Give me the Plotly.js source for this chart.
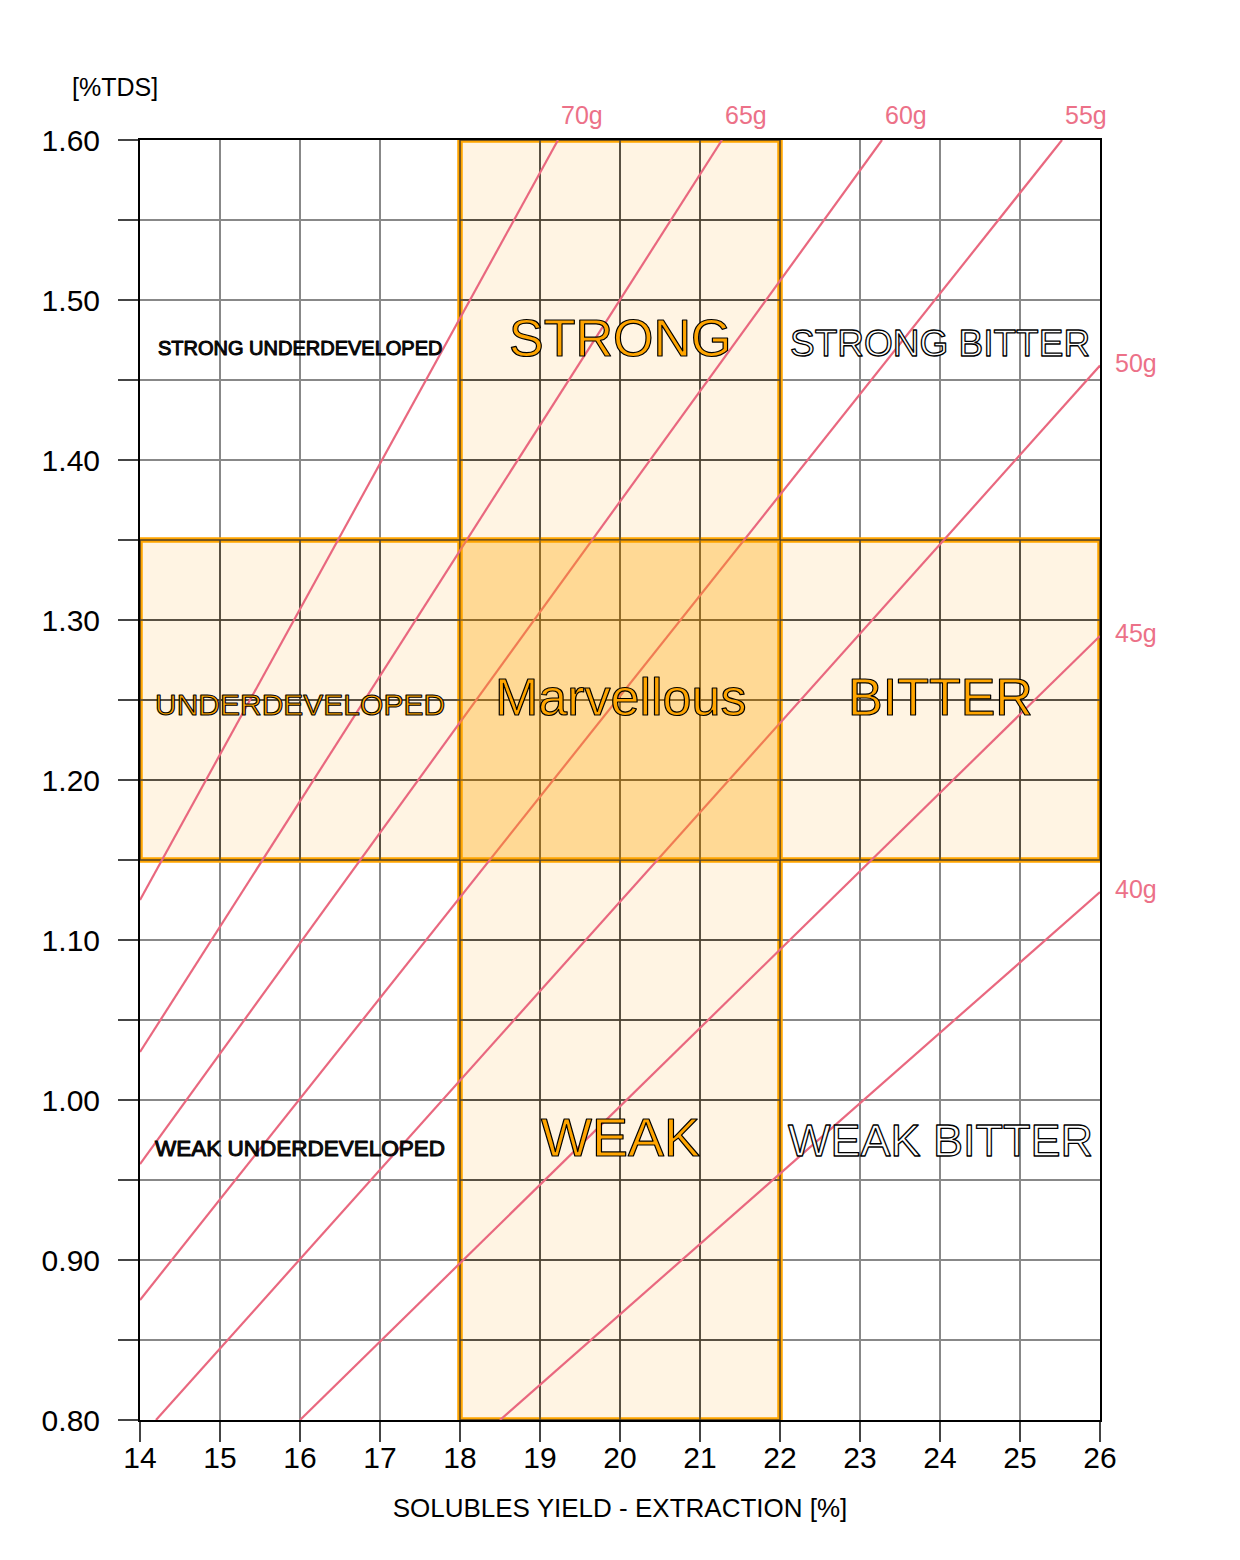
<!DOCTYPE html>
<html>
<head>
<meta charset="utf-8">
<script src="https://cdn.plot.ly/plotly-3.0.1.min.js"></script>
<style>html,body{margin:0;padding:0;background:#fff}#chart{width:1240px;height:1560px}</style>
</head>
<body>
<div id="chart"></div>
<script>
// ---- data ----
const xRange = [14, 26];
const yRange = [0.80, 1.60];
const xTicks = [14, 15, 16, 17, 18, 19, 20, 21, 22, 23, 24, 25, 26];
const yTicks = [0.80, 0.85, 0.90, 0.95, 1.00, 1.05, 1.10, 1.15, 1.20, 1.25, 1.30, 1.35, 1.40, 1.45, 1.50, 1.55, 1.60];
const yTickText = ['0.80', '', '0.90', '', '1.00', '', '1.10', '', '1.20', '', '1.30', '', '1.40', '', '1.50', '', '1.60'];

const extractionBand = [18, 22];   // ideal extraction %
const strengthBand = [1.15, 1.35]; // ideal %TDS

// brew-ratio lines (dose per litre), start and end points
const doseLabels = ['70g', '65g', '60g', '55g', '50g', '45g', '40g'];
const doseX0 = [14, 14, 14, 14, 14.2, 16, 18.5];
const doseY0 = [1.125, 1.03, 0.96, 0.875, 0.80, 0.80, 0.80];
const doseX1 = [19.225, 21.275, 23.275, 25.525, 26, 26, 26];
const doseY1 = [1.60, 1.60, 1.60, 1.60, 1.459, 1.29, 1.13];

const regionLabels = ['STRONG UNDERDEVELOPED', 'STRONG', 'STRONG BITTER',
                      'UNDERDEVELOPED', 'Marvellous', 'BITTER',
                      'WEAK UNDERDEVELOPED', 'WEAK', 'WEAK BITTER'];

const xTitle = 'SOLUBLES YIELD - EXTRACTION [%]';
const yTitle = '[%TDS]';

// ---- styling ----
const FONT = 'Liberation Sans, Arial, Helvetica, sans-serif';
const PINK = '#e9687f';
const ORANGE = '#ffa500';
const CREAM = '#fff4e3';
const DARKGRID = '#4a3e2b';

const traces = [];

// dark grid segments inside the bands (derived from tick arrays and band limits)
(function () {
  const xs = [], ys = [];
  const eps = 1e-9;
  xTicks.forEach(x => {
    if (x >= extractionBand[0] - eps && x <= extractionBand[1] + eps) {
      xs.push(x, x, null); ys.push(yRange[0], yRange[1], null);
    } else {
      xs.push(x, x, null); ys.push(strengthBand[0], strengthBand[1], null);
    }
  });
  yTicks.forEach(y => {
    if (y >= strengthBand[0] - eps && y <= strengthBand[1] + eps) {
      xs.push(xRange[0], xRange[1], null); ys.push(y, y, null);
    } else {
      xs.push(extractionBand[0], extractionBand[1], null); ys.push(y, y, null);
    }
  });
  traces.push({
    type: 'scatter', mode: 'lines', x: xs, y: ys,
    line: { color: DARKGRID, width: 1.5 },
    hoverinfo: 'skip', showlegend: false
  });
})();

// dose lines
doseLabels.forEach((name, i) => {
  traces.push({
    type: 'scatter', mode: 'lines', name: name,
    x: [doseX0[i], doseX1[i]], y: [doseY0[i], doseY1[i]],
    line: { color: PINK, width: 2.2 },
    hoverinfo: 'skip', showlegend: false
  });
});

const shapes = [
  { type: 'rect', xref: 'x', yref: 'y', x0: extractionBand[0], x1: extractionBand[1], y0: yRange[0], y1: yRange[1],
    fillcolor: CREAM, line: { width: 0 }, layer: 'below' },
  { type: 'rect', xref: 'x', yref: 'y', x0: xRange[0], x1: xRange[1], y0: strengthBand[0], y1: strengthBand[1],
    fillcolor: CREAM, line: { width: 0 }, layer: 'below' },
  { type: 'rect', xref: 'x', yref: 'y', x0: extractionBand[0], x1: extractionBand[1], y0: yRange[0], y1: yRange[1],
    fillcolor: 'rgba(0,0,0,0)', line: { color: ORANGE, width: 5.5 }, layer: 'between' },
  { type: 'rect', xref: 'x', yref: 'y', x0: xRange[0], x1: xRange[1], y0: strengthBand[0], y1: strengthBand[1],
    fillcolor: 'rgba(0,0,0,0)', line: { color: ORANGE, width: 5.5 }, layer: 'between' },
  { type: 'rect', xref: 'x', yref: 'y', x0: extractionBand[0], x1: extractionBand[1], y0: strengthBand[0], y1: strengthBand[1],
    fillcolor: 'rgba(255,165,0,0.34)', line: { width: 0 }, layer: 'above' }
];

const annotations = [];
const strokeStyles = []; // per-annotation: [fill, stroke, strokeWidth] or null

// dose labels
doseLabels.forEach((name, i) => {
  const atTop = doseY1[i] >= yRange[1] - 1e-9;
  annotations.push({
    x: doseX1[i], y: doseY1[i], xref: 'x', yref: 'y', text: name, showarrow: false,
    xanchor: 'center', yanchor: 'middle',
    xshift: atTop ? 24 : 36, yshift: atTop ? 25 : 3,
    font: { family: FONT, size: 25, color: '#ec7188' }
  });
  strokeStyles.push(null);
});

// region labels: positions, sizes and colours
const regionPos = [
  [16, 1.470, 20, '#111', '#000', 1.0],
  [20, 1.476, 52, ORANGE, '#000', 1.2],
  [24, 1.473, 37, '#ffffff', '#000', 1.3],
  [16, 1.247, 30, ORANGE, '#000', 1.1],
  [20, 1.252, 52, ORANGE, '#000', 1.2],
  [24, 1.252, 52, ORANGE, '#000', 1.2],
  [16, 0.970, 22.5, '#111', '#000', 1.0],
  [20, 0.977, 54, ORANGE, '#000', 1.2],
  [24, 0.975, 45, '#ffffff', '#000', 1.3]
];
regionLabels.forEach((t, i) => {
  const p = regionPos[i];
  annotations.push({
    x: p[0], y: p[1], xref: 'x', yref: 'y', text: t, showarrow: false,
    xanchor: 'center', yanchor: 'middle',
    font: { family: FONT, size: p[2], color: p[3] }
  });
  strokeStyles.push([p[3], p[4], p[5]]);
});

// y axis title at the top-left
annotations.push({
  x: -0.026, y: 1.0414, xref: 'paper', yref: 'paper', text: yTitle, showarrow: false,
  xanchor: 'center', yanchor: 'middle',
  font: { family: FONT, size: 25, color: '#000' }
});
strokeStyles.push(null);

const axisCommon = {
  showline: true, linecolor: '#000', linewidth: 2, mirror: true,
  showgrid: true, gridcolor: '#888', gridwidth: 1.3, zeroline: false,
  ticks: 'outside', ticklen: 20, tickwidth: 2, tickcolor: '#444',
  tickfont: { family: FONT, size: 30, color: '#000' },
  fixedrange: true
};

const layout = {
  width: 1240, height: 1560,
  margin: { l: 140, r: 140, t: 140, b: 140 },
  paper_bgcolor: '#fff', plot_bgcolor: '#fff',
  showlegend: false,
  font: { family: FONT, color: '#000' },
  xaxis: Object.assign({}, axisCommon, {
    range: xRange, tickmode: 'array', tickvals: xTicks, ticktext: xTicks.map(String),
    ticklabelstandoff: -10,
    title: { text: xTitle, font: { family: FONT, size: 26, color: '#000' }, standoff: 26 }
  }),
  yaxis: Object.assign({}, axisCommon, {
    range: yRange, tickmode: 'array', tickvals: yTicks, ticktext: yTickText,
    ticklabelstandoff: 12
  }),
  shapes: shapes,
  annotations: annotations
};

Plotly.newPlot('chart', traces, layout, { displayModeBar: false, staticPlot: true }).then(gd => {
  const groups = gd.querySelectorAll('g.annotation');
  groups.forEach(g => {
    const idx = +g.getAttribute('data-index');
    const s = strokeStyles[idx];
    if (!s) return;
    const txt = g.querySelector('text.annotation-text');
    if (!txt) return;
    txt.style.fill = s[0];
    txt.style.stroke = s[1];
    txt.style.strokeWidth = s[2] + 'px';
    txt.style.strokeLinejoin = 'round';
  });
});
</script>
</body>
</html>
